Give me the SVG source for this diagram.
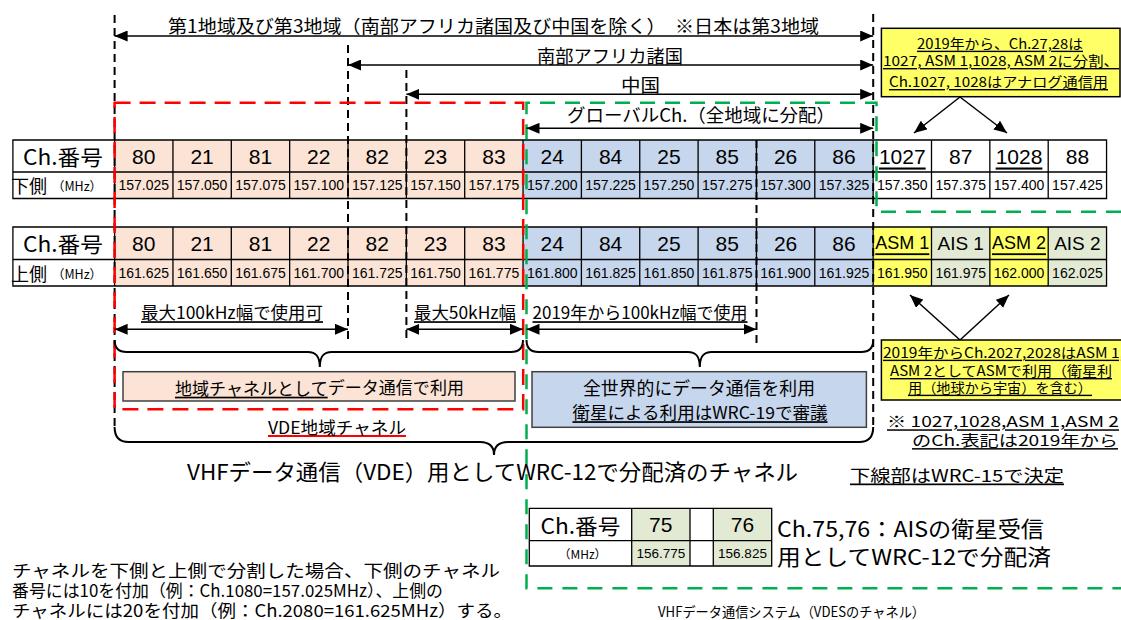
<svg xmlns="http://www.w3.org/2000/svg" width="1121" height="620" viewBox="0 0 1121 620">
<defs>
<style>
.j{font-family:"Noto Sans CJK JP","Noto Sans",sans-serif;fill:#000}
.a{font-family:"Liberation Sans",Arial,sans-serif;fill:#000}
.m{text-anchor:middle}
.c{dominant-baseline:central}
.u{text-decoration:underline}
.n{font-size:21px}
.f{font-size:14px}
.dash{stroke:#000;stroke-width:2;stroke-dasharray:8 5;fill:none}
.arr{stroke:#000;stroke-width:1.5;fill:none}
.grid{stroke:#000;stroke-width:1.3;fill:none}
.brace{stroke:#000;stroke-width:2;fill:none}
.ybox{fill:#ffff66;stroke:#000;stroke-width:1.5}
</style>
<marker id="ah" viewBox="0 0 13 11" refX="13" refY="5.5" markerWidth="13" markerHeight="11" markerUnits="userSpaceOnUse" orient="auto-start-reverse"><path d="M0,0L13,5.5L0,11z" fill="#000"/></marker>
</defs>
<rect width="1121" height="620" fill="#fff"/>

<g id="table-lower">
<rect x="12.9" y="140" width="101.7" height="58.5" fill="#fff"/>
<rect x="114.6" y="140" width="408.45" height="58.5" fill="#fbe4d5"/>
<rect x="523.05" y="140" width="350.1" height="58.5" fill="#c6d6ed"/>
<rect x="873.15" y="140" width="233.4" height="58.5" fill="#fff"/>
<path class="grid" d="M12.9,140H1106.55V198.5H12.9Z M12.9,172H1106.55 M114.6,140V198.5M172.95,140V198.5M231.3,140V198.5M289.65,140V198.5M348,140V198.5M406.35,140V198.5M464.7,140V198.5M523.05,140V198.5M581.4,140V198.5M639.75,140V198.5M698.1,140V198.5M756.45,140V198.5M814.8,140V198.5M873.15,140V198.5M931.5,140V198.5M989.85,140V198.5M1048.2,140V198.5"/>
<text class="j m c" x="63" y="156" font-size="21" textLength="80" lengthAdjust="spacingAndGlyphs">Ch.番号</text>
<text class="j m c" x="29" y="185.3" font-size="18">下側</text>
<text class="j m c" x="77" y="185.8" font-size="12.5">（MHz）</text>
<g class="a n m c">
<text x="143.8" y="156">80</text><text x="202.1" y="156">21</text><text x="260.5" y="156">81</text><text x="318.8" y="156">22</text><text x="377.2" y="156">82</text><text x="435.5" y="156">23</text><text x="493.9" y="156">83</text><text x="552.2" y="156">24</text><text x="610.6" y="156">84</text><text x="668.9" y="156">25</text><text x="727.3" y="156">85</text><text x="785.6" y="156">26</text><text x="844" y="156">86</text><text x="902.3" y="156" class="u">1027</text><text x="960.7" y="156">87</text><text x="1019" y="156" class="u">1028</text><text x="1077.4" y="156">88</text>
</g>
<g class="a f m c">
<text x="143.8" y="185.3">157.025</text><text x="202.1" y="185.3">157.050</text><text x="260.5" y="185.3">157.075</text><text x="318.8" y="185.3">157.100</text><text x="377.2" y="185.3">157.125</text><text x="435.5" y="185.3">157.150</text><text x="493.9" y="185.3">157.175</text><text x="552.2" y="185.3">157.200</text><text x="610.6" y="185.3">157.225</text><text x="668.9" y="185.3">157.250</text><text x="727.3" y="185.3">157.275</text><text x="785.6" y="185.3">157.300</text><text x="844" y="185.3">157.325</text><text x="902.3" y="185.3">157.350</text><text x="960.7" y="185.3">157.375</text><text x="1019" y="185.3">157.400</text><text x="1077.4" y="185.3">157.425</text>
</g>
</g>

<g id="table-upper">
<rect x="12.9" y="227" width="101.7" height="59" fill="#fff"/>
<rect x="114.6" y="227" width="408.45" height="59" fill="#fbe4d5"/>
<rect x="523.05" y="227" width="350.1" height="59" fill="#c6d6ed"/>
<rect x="873.15" y="227" width="58.35" height="59" fill="#ffff66"/>
<rect x="931.5" y="227" width="58.35" height="59" fill="#e3ead4"/>
<rect x="989.85" y="227" width="58.35" height="59" fill="#ffff66"/>
<rect x="1048.2" y="227" width="58.35" height="59" fill="#e3ead4"/>
<path class="grid" d="M12.9,227H1106.55V286H12.9Z M12.9,259.5H1106.55 M114.6,227V286M172.95,227V286M231.3,227V286M289.65,227V286M348,227V286M406.35,227V286M464.7,227V286M523.05,227V286M581.4,227V286M639.75,227V286M698.1,227V286M756.45,227V286M814.8,227V286M873.15,227V286M931.5,227V286M989.85,227V286M1048.2,227V286"/>
<text class="j m c" x="63" y="243.3" font-size="21" textLength="80" lengthAdjust="spacingAndGlyphs">Ch.番号</text>
<text class="j m c" x="29" y="272.8" font-size="18">上側</text>
<text class="j m c" x="77" y="273.3" font-size="12.5">（MHz）</text>
<g class="a n m c">
<text x="143.8" y="243.3">80</text><text x="202.1" y="243.3">21</text><text x="260.5" y="243.3">81</text><text x="318.8" y="243.3">22</text><text x="377.2" y="243.3">82</text><text x="435.5" y="243.3">23</text><text x="493.9" y="243.3">83</text><text x="552.2" y="243.3">24</text><text x="610.6" y="243.3">84</text><text x="668.9" y="243.3">25</text><text x="727.3" y="243.3">85</text><text x="785.6" y="243.3">26</text><text x="844" y="243.3">86</text>
<text x="902.3" y="243.3" class="u" font-size="18">ASM 1</text><text x="960.7" y="243.3" font-size="19">AIS 1</text><text x="1019" y="243.3" class="u" font-size="18">ASM 2</text><text x="1077.4" y="243.3" font-size="19">AIS 2</text>
</g>
<g class="a f m c">
<text x="143.8" y="272.8">161.625</text><text x="202.1" y="272.8">161.650</text><text x="260.5" y="272.8">161.675</text><text x="318.8" y="272.8">161.700</text><text x="377.2" y="272.8">161.725</text><text x="435.5" y="272.8">161.750</text><text x="493.9" y="272.8">161.775</text><text x="552.2" y="272.8">161.800</text><text x="610.6" y="272.8">161.825</text><text x="668.9" y="272.8">161.850</text><text x="727.3" y="272.8">161.875</text><text x="785.6" y="272.8">161.900</text><text x="844" y="272.8">161.925</text><text x="902.3" y="272.8">161.950</text><text x="960.7" y="272.8">161.975</text><text x="1019" y="272.8">162.000</text><text x="1077.4" y="272.8">162.025</text>
</g>
</g>

<g id="table-ais">
<rect x="529.3" y="508.3" width="102.4" height="57.7" fill="#fff"/>
<rect x="631.7" y="508.3" width="58.3" height="57.7" fill="#e3ead4"/>
<rect x="690" y="508.3" width="23.3" height="57.7" fill="#fff"/>
<rect x="713.3" y="508.3" width="58.4" height="57.7" fill="#e3ead4"/>
<path class="grid" d="M529.3,508.3H771.7V566H529.3Z M529.3,540.7H771.7 M631.7,508.3V566 M690,508.3V566 M713.3,508.3V566"/>
<text class="j m c" x="580.5" y="524.5" font-size="21" textLength="80" lengthAdjust="spacingAndGlyphs">Ch.番号</text>
<text class="j m c" x="582.5" y="553.5" font-size="12">（MHz）</text>
<text class="a n m c" x="660.8" y="524.5">75</text>
<text class="a n m c" x="742.5" y="524.5">76</text>
<text class="a m c" x="660.8" y="553.5" font-size="13.5">156.775</text>
<text class="a m c" x="742.5" y="553.5" font-size="13.5">156.825</text>
</g>

<g id="region-boundaries">
<line class="dash" x1="114.6" y1="15" x2="114.6" y2="428"/>
<line class="dash" x1="348" y1="45" x2="348" y2="343"/>
<line class="dash" x1="406.4" y1="70" x2="406.4" y2="343"/>
<line class="dash" x1="756.5" y1="140" x2="756.5" y2="343"/>
<line class="dash" x1="873.2" y1="14" x2="873.2" y2="428"/>
<rect id="vde-regional" x="114.6" y="102.7" width="408.6" height="306.6" fill="none" stroke="#ff0000" stroke-width="2.5" stroke-dasharray="16 9"/>
<path id="vdes-area" d="M1121,211.7H876.5V102.7H526.5V588.3H1121" fill="none" stroke="#00b050" stroke-width="2.5" stroke-dasharray="15 10"/>
</g>

<g id="connectors">
<line class="arr" x1="114.6" y1="36" x2="873.2" y2="36" marker-start="url(#ah)" marker-end="url(#ah)"/>
<line class="arr" x1="348" y1="65" x2="873.2" y2="65" marker-start="url(#ah)" marker-end="url(#ah)"/>
<line class="arr" x1="406.4" y1="94.3" x2="873.2" y2="94.3" marker-start="url(#ah)" marker-end="url(#ah)"/>
<line class="arr" x1="526.5" y1="128.3" x2="873.2" y2="128.3" marker-start="url(#ah)" marker-end="url(#ah)"/>
<line class="arr" x1="114.6" y1="329.3" x2="348" y2="329.3" marker-start="url(#ah)" marker-end="url(#ah)"/>
<line class="arr" x1="406.4" y1="329.3" x2="523" y2="329.3" marker-start="url(#ah)" marker-end="url(#ah)"/>
<line class="arr" x1="526.5" y1="329.3" x2="756.5" y2="329.3" marker-start="url(#ah)" marker-end="url(#ah)"/>
<line class="arr" x1="960" y1="97" x2="914" y2="133" marker-end="url(#ah)"/>
<line class="arr" x1="960" y1="97" x2="1007" y2="133" marker-end="url(#ah)"/>
<line class="arr" x1="960" y1="340" x2="910" y2="295" marker-end="url(#ah)"/>
<line class="arr" x1="960" y1="340" x2="1009" y2="295" marker-end="url(#ah)"/>
<path class="brace" d="M114.6,340C114.6,348 118.6,352 126.6,352H307.8C315.8,352 319.8,356 319.8,367C319.8,356 323.8,352 331.8,352H511C519,352 523,348 523,340"/>
<path class="brace" d="M526.5,340C526.5,348 530.5,352 538.5,352H687.8C695.8,352 699.8,356 699.8,367C699.8,356 703.8,352 711.8,352H861.2C869.2,352 873.2,348 873.2,340"/>
<path class="brace" d="M114.6,427C114.6,437 118.6,442 128.6,442H480C489,442 494,446 494,455C494,446 499,442 508,442H859.2C869.2,442 873.2,437 873.2,427"/>
<line x1="268" y1="436" x2="406" y2="436" stroke="#ff0000" stroke-width="2"/>
</g>

<g id="region-labels">
<text class="j m c" x="493.5" y="25" font-size="18" textLength="651" lengthAdjust="spacingAndGlyphs">第1地域及び第3地域（南部アフリカ諸国及び中国を除く）　※日本は第3地域</text>
<text class="j m c" x="610" y="55" font-size="18" textLength="146" lengthAdjust="spacingAndGlyphs">南部アフリカ諸国</text>
<text class="j m c" x="640.5" y="84" font-size="18" textLength="39" lengthAdjust="spacingAndGlyphs">中国</text>
<text class="j m c" x="701" y="114" font-size="18" textLength="268" lengthAdjust="spacingAndGlyphs">グローバルCh.（全地域に分配）</text>
</g>

<g id="bandwidth-labels">
<text class="j m c u" x="232" y="311.7" font-size="17" textLength="182" lengthAdjust="spacingAndGlyphs">最大100kHz幅で使用可</text>
<text class="j m c u" x="465" y="311.7" font-size="17" textLength="102" lengthAdjust="spacingAndGlyphs">最大50kHz幅</text>
<text class="j m c u" x="640" y="311.7" font-size="17" textLength="215" lengthAdjust="spacingAndGlyphs">2019年から100kHz幅で使用</text>
</g>

<g id="box-regional">
<rect x="123" y="371.7" width="392" height="29.3" fill="#fbe4d5" stroke="#404040" stroke-width="1.5"/>
<text class="j m c" x="319.5" y="386.7" font-size="17" textLength="289" lengthAdjust="spacingAndGlyphs"><tspan text-decoration="underline">地域チャネルとして</tspan>データ通信で利用</text>
</g>

<g id="box-global">
<rect x="532" y="371.7" width="334.4" height="55.6" fill="#c6d6ed" stroke="#404040" stroke-width="1.5"/>
<text class="j m c" x="699" y="386.7" font-size="18" textLength="232" lengthAdjust="spacingAndGlyphs">全世界的にデータ通信を利用</text>
<text class="j m c u" x="700" y="411.7" font-size="17" textLength="255" lengthAdjust="spacingAndGlyphs">衛星による利用はWRC-19で審議</text>
</g>

<g id="vde-labels">
<text class="j m c" x="337" y="426.2" font-size="17" textLength="138" lengthAdjust="spacingAndGlyphs">VDE地域チャネル</text>
<text class="j m c" x="492.5" y="470" font-size="22" textLength="611" lengthAdjust="spacingAndGlyphs">VHFデータ通信（VDE）用としてWRC-12で分配済のチャネル</text>
</g>

<g id="note-top">
<rect class="ybox" x="881.4" y="28.3" width="238.6" height="68.4"/>
<text class="j m c u" x="1000" y="42.7" font-size="14" textLength="166" lengthAdjust="spacingAndGlyphs">2019年から、Ch.27,28は</text>
<text class="j m c u" x="1001" y="60" font-size="14" textLength="236" lengthAdjust="spacingAndGlyphs">1027, ASM 1,1028, ASM 2に分割、</text>
<text class="j m c u" x="998.5" y="81" font-size="14" textLength="219" lengthAdjust="spacingAndGlyphs">Ch.1027, 1028はアナログ通信用</text>
</g>

<g id="note-bottom">
<rect class="ybox" x="881.4" y="340" width="240.6" height="60"/>
<text class="j c u" x="883" y="351.7" font-size="14" textLength="241" lengthAdjust="spacingAndGlyphs">2019年からCh.2027,2028はASM 1,</text>
<text class="j m c u" x="1001" y="370" font-size="14" textLength="222" lengthAdjust="spacingAndGlyphs">ASM 2としてASMで利用（衛星利</text>
<text class="j m c u" x="1000" y="386.7" font-size="14" textLength="184" lengthAdjust="spacingAndGlyphs">用（地球から宇宙）を含む）</text>
</g>

<g id="notes">
<text class="j c u" x="887" y="420.8" font-size="15" textLength="232" lengthAdjust="spacingAndGlyphs">※ 1027,1028,ASM 1,ASM 2</text>
<text class="j c u" x="912" y="439.6" font-size="15" textLength="206" lengthAdjust="spacingAndGlyphs">のCh.表記は2019年から</text>
<text class="j c u" x="850" y="474" font-size="17" textLength="214" lengthAdjust="spacingAndGlyphs">下線部はWRC-15で決定</text>
<text class="j c" x="777" y="527.3" font-size="22" textLength="267" lengthAdjust="spacingAndGlyphs">Ch.75,76：AISの衛星受信</text>
<text class="j c" x="777" y="555" font-size="22" textLength="274" lengthAdjust="spacingAndGlyphs">用としてWRC-12で分配済</text>
<text class="j c" x="12" y="569" font-size="17" textLength="488" lengthAdjust="spacingAndGlyphs">チャネルを下側と上側で分割した場合、下側のチャネル</text>
<text class="j c" x="12" y="589" font-size="17" textLength="431" lengthAdjust="spacingAndGlyphs">番号には10を付加（例：Ch.1080=157.025MHz）、上側の</text>
<text class="j c" x="12" y="609" font-size="17" textLength="500" lengthAdjust="spacingAndGlyphs">チャネルには20を付加（例：Ch.2080=161.625MHz）する。</text>
<text class="j m c" x="791.5" y="611" font-size="14" textLength="267" lengthAdjust="spacingAndGlyphs">VHFデータ通信システム（VDESのチャネル）</text>
</g>
</svg>
